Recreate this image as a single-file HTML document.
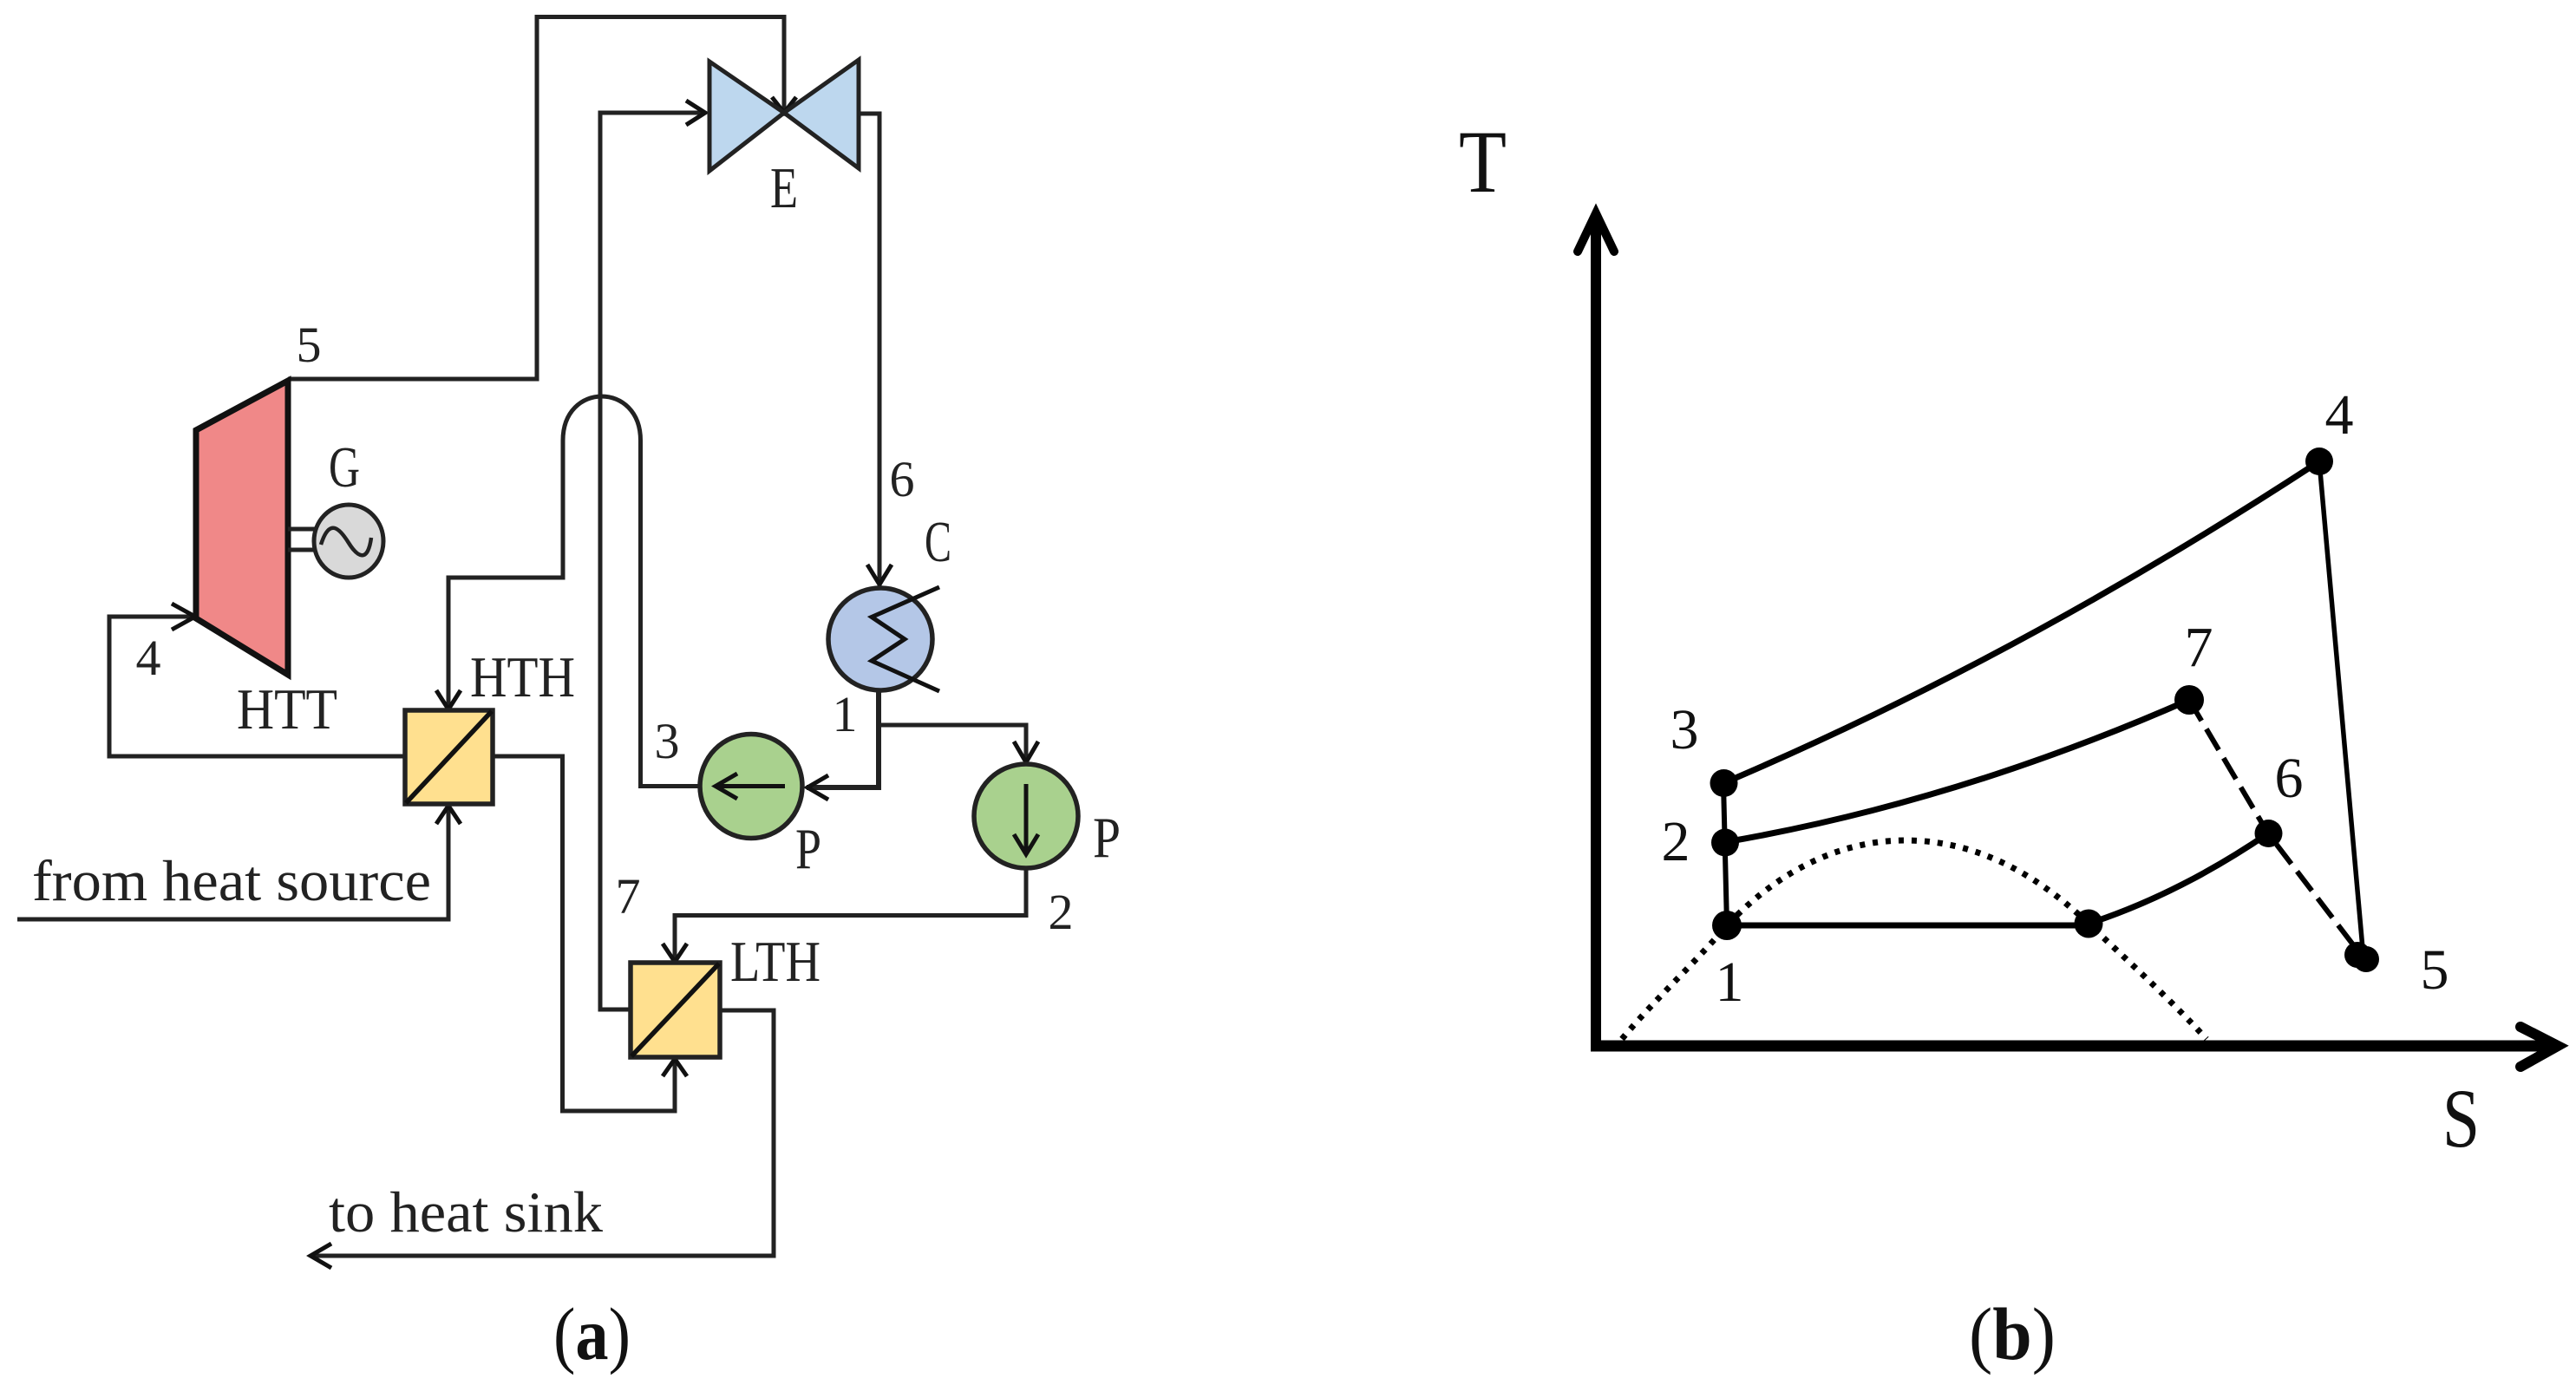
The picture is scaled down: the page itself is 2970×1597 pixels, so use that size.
<!DOCTYPE html>
<html lang="en">
<head>
<meta charset="utf-8">
<title>Cycle diagram and T-S chart</title>
<style>
html,body{margin:0;padding:0;background:#fff;width:2970px;height:1597px;overflow:hidden}
svg{display:block}
text{font-family:"Liberation Serif",serif;fill:#222}
.n{font-size:58px;text-anchor:middle}
.l{font-size:67px}
.r{font-size:66px;text-anchor:middle;fill:#111}
.w{stroke:#222;stroke-width:5;fill:none;stroke-linejoin:miter}
.h{stroke:#111;stroke-width:5;fill:none}
.k{stroke:#000;fill:none}
</style>
</head>
<body>
<svg xmlns="http://www.w3.org/2000/svg" width="2970" height="1597" viewBox="0 0 2970 1597">
<rect width="2970" height="1597" fill="#fff"/>

<!-- Left: pipes -->
<path class="w" d="M332 437H619V19.5H904V130"/>
<path class="w" d="M813 130H692V1164H727"/>
<path class="w" d="M990 131H1014V676"/>
<path class="w" d="M517 819V666H649V508C649 440 738.5 440 738.5 508V906.5H807"/>
<path class="w" d="M226 711H126V872H467"/>
<path class="w" d="M568 872H648.5V1281H778V1219"/>
<path class="w" d="M830 1165H892V1448H358"/>
<path class="w" d="M20 1060H517V927"/>
<path class="w" d="M1183 1002V1055.5H778V1110"/>
<path class="w" style="stroke-width:6" d="M1013 796V908H930"/>
<path class="w" d="M1013 836H1183V881"/>

<!-- Left: arrowheads -->
<path class="h" d="M890 112L904 130L918 112"/>
<path class="h" d="M791 116L813 130L791 144"/>
<path class="h" d="M1000 651L1014 674L1028 651"/>
<path class="h" d="M503 796L517 818L531 796"/>
<path class="h" d="M198 696L225 711L198 726"/>
<path class="h" d="M503 950L517 929L531 950"/>
<path class="h" d="M764 1088L778 1109L792 1088"/>
<path class="h" d="M764 1241L778 1221L792 1241"/>
<path class="h" d="M382 1434L358 1448L382 1462"/>
<path class="h" d="M955 894L931 908L955 922"/>
<path class="h" d="M1169 855L1183 879L1197 855"/>

<!-- Turbine -->
<path d="M226 496L332 439V778L226 713Z" fill="#F08888" stroke="#111" stroke-width="7" stroke-linejoin="miter"/>
<!-- Generator -->
<path class="w" d="M332 610H366M332 634H366" style="stroke-width:5"/>
<ellipse cx="402" cy="624" rx="40" ry="42" fill="#D9D9D9" stroke="#222" stroke-width="5"/>
<path d="M370 628C380 596 392 610 402 626C412 642 424 650 428 620" fill="none" stroke="#222" stroke-width="4.5"/>

<!-- Expansion valve -->
<path d="M818 71L904 130L818 197Z" fill="#BDD7EE" stroke="#222" stroke-width="5"/>
<path d="M990 69L904 130L990 194Z" fill="#BDD7EE" stroke="#222" stroke-width="5"/>

<!-- Heat exchangers -->
<rect x="467" y="819" width="101" height="108" fill="#FFE08F" stroke="#222" stroke-width="5.5"/>
<path d="M468 926L567 820" stroke="#111" stroke-width="5.5" fill="none"/>
<rect x="727" y="1110" width="103" height="109" fill="#FFE08F" stroke="#222" stroke-width="5.5"/>
<path d="M728 1218L829 1111" stroke="#111" stroke-width="5.5" fill="none"/>

<!-- Condenser -->
<ellipse cx="1015" cy="737" rx="60" ry="59" fill="#B4C7E7" stroke="#222" stroke-width="5.5"/>
<path d="M1083 677L1005 711.5L1043 737L1005 762L1083 797" fill="none" stroke="#111" stroke-width="5"/>

<!-- Pumps -->
<ellipse cx="866" cy="906.5" rx="59" ry="60" fill="#A9D18E" stroke="#222" stroke-width="5.5"/>
<path class="h" d="M905 906.5H825M850 892L825 906.5L850 921"/>
<ellipse cx="1183" cy="941" rx="60" ry="60" fill="#A9D18E" stroke="#222" stroke-width="5.5"/>
<path class="h" d="M1183 904V985M1169 962L1183 985L1197 962"/>

<!-- Left: labels -->
<text class="n" x="356" y="417">5</text>
<text class="n" x="171" y="778">4</text>
<text class="n" x="769" y="874">3</text>
<text class="n" x="974" y="843">1</text>
<text class="n" x="1040" y="572">6</text>
<text class="n" x="1223" y="1071">2</text>
<text class="n" x="724" y="1053">7</text>
<text class="l" x="379" y="561" textLength="36" lengthAdjust="spacingAndGlyphs">G</text>
<text class="l" x="888" y="239" textLength="32" lengthAdjust="spacingAndGlyphs">E</text>
<text class="l" x="1066" y="647" textLength="31" lengthAdjust="spacingAndGlyphs">C</text>
<text class="l" x="917" y="1001" textLength="30" lengthAdjust="spacingAndGlyphs">P</text>
<text class="l" x="1260" y="988" textLength="32" lengthAdjust="spacingAndGlyphs">P</text>
<text class="l" x="542" y="803" textLength="121" lengthAdjust="spacingAndGlyphs">HTH</text>
<text class="l" x="273" y="840" textLength="116" lengthAdjust="spacingAndGlyphs">HTT</text>
<text class="l" x="842" y="1131" textLength="104" lengthAdjust="spacingAndGlyphs">LTH</text>
<text class="l" x="37" y="1038" textLength="460" lengthAdjust="spacingAndGlyphs">from heat source</text>
<text class="l" x="379" y="1420" textLength="316" lengthAdjust="spacingAndGlyphs">to heat sink</text>
<text x="638" y="1567" font-size="86" textLength="89" lengthAdjust="spacingAndGlyphs" style="fill:#111">(<tspan font-weight="bold">a</tspan>)</text>

<!-- Right: axes -->
<path class="k" stroke-width="12" d="M1840 1212V250"/>
<path class="k" stroke-width="10" stroke-linecap="round" d="M1819 290L1840 246L1861 290"/>
<path class="k" stroke-width="13" d="M1834 1206H2945"/>
<path class="k" stroke-width="12" stroke-linecap="round" d="M2906 1184L2949 1206L2906 1230"/>

<!-- Right: dome -->
<path class="k" stroke-width="7" stroke-dasharray="6 9" d="M1870 1198C1910 1150 1950 1115 1991 1067C2050 1005 2120 969 2197 969C2270 969 2340 1000 2408 1065C2450 1105 2500 1150 2544 1198"/>

<!-- Right: cycle -->
<path class="k" stroke-width="7" d="M1987 903Q2330 757 2674 532"/>
<path class="k" stroke-width="5.5" d="M2674 532L2725 1105"/>
<path class="k" stroke-width="6" d="M1987 903L1991 1067"/>
<path class="k" stroke-width="7" d="M1989 971Q2256 925 2524 807"/>
<path class="k" stroke-width="7" d="M1991 1067H2408"/>
<path class="k" stroke-width="7" d="M2408 1065Q2512 1031 2615 961"/>
<path class="k" stroke-width="6" stroke-dasharray="28 11" d="M2524 807L2615 961L2725 1105"/>

<!-- Right: points -->
<g fill="#000">
<circle cx="2674" cy="532" r="16"/>
<circle cx="2524" cy="807" r="17"/>
<circle cx="1987.5" cy="903" r="16"/>
<circle cx="1989" cy="971.5" r="16"/>
<circle cx="1991" cy="1067" r="17"/>
<circle cx="2408" cy="1065" r="16.5"/>
<circle cx="2615.5" cy="961" r="16"/>
<circle cx="2718" cy="1101" r="15"/>
<circle cx="2728" cy="1106" r="15"/>
</g>

<!-- Right: labels -->
<text class="r" x="2697" y="500">4</text>
<text class="r" x="2535" y="768">7</text>
<text class="r" x="1942" y="863">3</text>
<text class="r" x="1932" y="992">2</text>
<text class="r" x="1994" y="1154">1</text>
<text class="r" x="2639" y="919">6</text>
<text class="r" x="2807" y="1140">5</text>
<text x="1682" y="221" font-size="103" textLength="55" lengthAdjust="spacingAndGlyphs" style="fill:#111">T</text>
<text x="2816" y="1322" font-size="96" textLength="43" lengthAdjust="spacingAndGlyphs" style="fill:#111">S</text>
<text x="2270" y="1567" font-size="86" textLength="100" lengthAdjust="spacingAndGlyphs" style="fill:#111">(<tspan font-weight="bold">b</tspan>)</text>
</svg>
</body>
</html>
